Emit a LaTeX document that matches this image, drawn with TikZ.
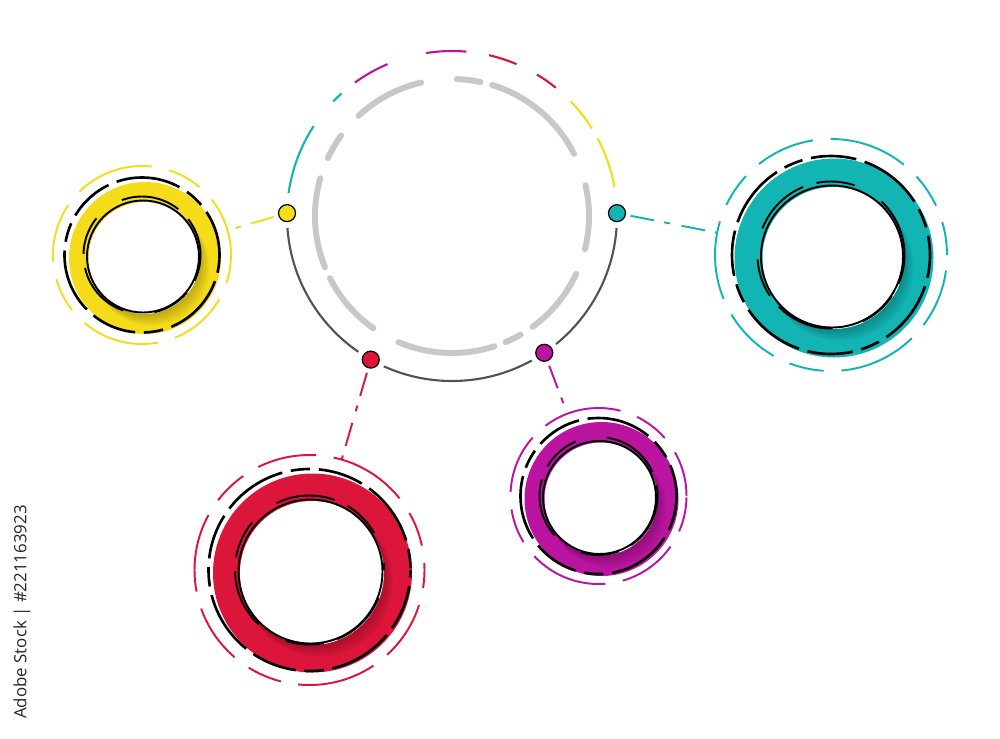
\documentclass[tikz,border=0pt]{standalone}
\usepackage{fontspec}
\newfontfamily\stockfont{Open Sans}
\usepackage{tikz}

\definecolor{dotyellow}{HTML}{F5DC1A}
\definecolor{dotteal}{HTML}{13B4B4}
\definecolor{dotred}{HTML}{DC153A}
\definecolor{dotmagenta}{HTML}{BB14A0}
\definecolor{hubgrey}{HTML}{C8C8C8}
\definecolor{hubdark}{HTML}{525252}

\begin{document}
\begin{tikzpicture}[x=0.02cm, y=0.02cm,
    every node/.style={circle, inner sep=0pt, outer sep=0pt},
    ring/.style={draw=#1, line width=1.1pt, dash pattern=on 34pt off 10pt on 20pt off 10pt on 45pt off 10pt},
    blackring/.style={draw=black, line width=1.5pt, dash pattern=on 26pt off 5pt on 11pt off 5pt on 37pt off 5pt},
    innerring/.style={draw=black, line width=1.1pt, dash pattern=on 22pt off 8pt on 34pt off 18pt},
    hubdot/.style={fill=#1, draw=black, line width=0.7pt, minimum size=0.34cm, preaction={draw=white, line width=7pt}},
    link/.style={draw=#1, line width=1.1pt, dash pattern=on 13.7pt off 5.7pt on 3.4pt off 6.8pt, shorten <=3pt},
    hubdash/.style={draw=hubgrey, line width=3.4pt, line cap=round},
    hubarc/.style={draw=#1, line width=1.2pt}]
  \path[use as bounding box, fill=white] (0,0) rectangle (1000,-738);

  % satellites
  \foreach \n/\col/\cx/\cy/\ro/\rb/\rd/\rw/\ph in {yellow/dotyellow/145/-258/89/77.5/76/56/0,
      teal/dotteal/834/-258/116/99/99.5/71/15,
      red/dotred/312.5/-573/115/101/99.5/72/30,
      magenta/dotmagenta/601.5/-499/88/78/77/56.5/8}{
    \node[ring=\col, minimum size=2*\ro*0.02cm, dash phase=\ph pt] (\n-out) at (\cx-3,\cy+3) {};
    \node[fill=\col, minimum size=2*\rd*0.02cm] (\n-disk) at (\cx,\cy) {};
    \begin{scope}
      \clip (\n-disk.center) circle[radius=\rd];
      \foreach \k in {1,...,7}
        \fill[black, opacity=0.035] (\cx-2+1.2*\k,\cy+1-1.5*\k) circle[radius=\rw+0.3*\k];
    \end{scope}
    \fill[white] (\cx-0.5,\cy) circle[radius=\rw];
    \node[draw=black, line width=1.1pt, minimum size=2*\rw*0.02cm] (\n-hole) at (\cx-2,\cy+1.5) {};
    \draw[blackring, dash phase=\ph pt] (\cx-3,\cy+3) circle[radius=\rb];
    \draw[innerring, dash phase=2*\ph pt] (\cx-3,\cy+3) circle[radius=\rw+2.5];
  }

  % central ring
  \coordinate (hub) at (452,-216);
  \foreach \a/\b in {133/103, 88/78, 73/27, 13/-14, -25/-54, -60/-67, -72/-113, -125/-153, -158/-196, -205/-216}
    \draw[hubdash] (hub) ++(\a:137) arc[start angle=\a, end angle=\b, radius=137];
  \foreach \a/\b/\col in {172/147/dotteal, 136/132/dotteal, 126/113/dotmagenta, 99/85/dotmagenta,
      77/67/dotred, 59/51/dotred, 44/32/dotyellow, 28/10/dotyellow}
    \draw[hubarc=\col] (hub) ++(\a:165) arc[start angle=\a, end angle=\b, radius=165];
  \draw[hubarc=hubdark] (hub) ++(182:165) arc[start angle=182, end angle=358, radius=165];

  \node[hubdot=dotyellow] (ydot) at ([shift={(hub)}]179:165) {};
  \node[hubdot=dotteal] (tdot) at ([shift={(hub)}]1:165) {};
  \node[hubdot=dotred] (rdot) at ([shift={(hub)}]-119.5:165) {};
  \node[hubdot=dotmagenta] (mdot) at ([shift={(hub)}]-56:165) {};

  \draw[link=dotyellow] (ydot) -- (yellow-out);
  \draw[link=dotteal] (tdot) -- (teal-out);
  \draw[link=dotred] (rdot) -- (red-out);
  \draw[link=dotmagenta] (mdot) -- (magenta-out);

  \node[rectangle, rotate=90, text=black!85, font=\stockfont\fontsize{9.6}{11}\selectfont] (stockid) at (22,-612) {Adobe Stock | \#221163923};
\end{tikzpicture}
\end{document}
